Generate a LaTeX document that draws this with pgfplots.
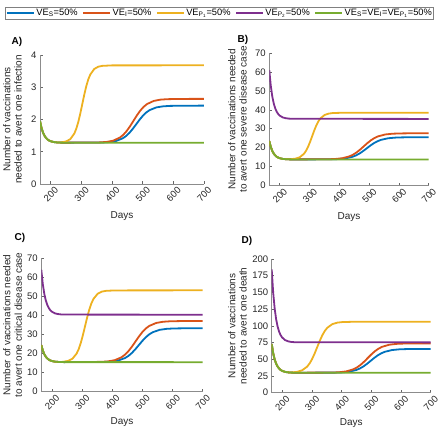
\documentclass[border=0pt]{standalone}
\usepackage{fontspec}
\setmainfont{Liberation Sans}
\usepackage{pgfplots}
\pgfplotsset{compat=1.18}
\definecolor{mblue}{rgb}{0,0.447,0.741}
\definecolor{mred}{rgb}{0.851,0.325,0.098}
\definecolor{myel}{rgb}{0.929,0.694,0.125}
\definecolor{mpur}{rgb}{0.494,0.184,0.556}
\definecolor{mgrn}{rgb}{0.466,0.674,0.188}
\pgfplotsset{
 panel/.style={
  scale only axis, axis lines*=left, xmin=165, xmax=700,
  xtick={200,300,400,500,600,700},
  tick align=inside, major tick length=2.5pt,
  axis line style={black!45, line width=0.7pt},
  tick style={black!60, line width=0.5pt},
  /pgf/number format/assume math mode=true,
  tick label style={font=\fontsize{9.5}{11}\selectfont, text=black!85},
  xticklabel style={rotate=45, anchor=north east, inner sep=1pt, xshift=2pt, yshift=-3pt},
  label style={font=\fontsize{10}{11.3}\selectfont, text=black!85},
  xlabel=Days,
  every axis plot/.append style={line width=1.8pt, line join=round},
  clip=true,
 },
}
\begin{document}
\begin{tikzpicture}[x=1pt,y=1pt]
\useasboundingbox (0,0) rectangle (440,429);
% ---------------- A
\begin{axis}[panel, at={(40pt,245pt)}, anchor=south west, width=164pt, height=129pt,
  ymin=0, ymax=4, ytick={0,1,2,3,4},
  ylabel={Number of vaccinations\\needed to avert one infection},
  ylabel style={at={(axis description cs:-0.168,0.5)}, anchor=center, align=center},
  xlabel style={at={(axis description cs:0.5,-0.25)}, anchor=center},
  legend columns=5,
  legend style={at={(axis description cs:1.0945,1.3256)}, anchor=center, draw=black!50,
    font=\fontsize{9.3}{10}\selectfont, inner sep=1pt,
    nodes={inner sep=0.8pt},
    /tikz/every odd column/.append style={column sep=1pt},
    /tikz/every even column/.append style={column sep=4pt}},
  legend image code/.code={\draw[#1,line width=1.3pt] (0pt,0pt) -- (27pt,0pt);},
]
\addlegendimage{mblue}
\addlegendentry{VE\textsubscript{S}=50\%}
\addlegendimage{mred}
\addlegendentry{VE\textsubscript{I}=50\%}
\addlegendimage{myel}
\addlegendentry{VE\textsubscript{P\textsubscript{1}}=50\%}
\addlegendimage{mpur}
\addlegendentry{VE\textsubscript{P\textsubscript{2}}=50\%}
\addlegendimage{mgrn}
\addlegendentry{VE\textsubscript{S}=VE\textsubscript{I}=VE\textsubscript{P\textsubscript{1}}=50\%}
\addplot[mblue, forget plot] coordinates {(165,1.95)(170,1.736)(175,1.590)(180,1.491)(185,1.424)(190,1.378)(195,1.346)(200,1.326)(210,1.301)(220,1.290)(230,1.284)(240,1.282)(369,1.288)(391,1.301)(413,1.334)(435,1.417)(446,1.489)(457,1.589)(468,1.715)(479,1.855)(490,1.995)(501,2.121)(512,2.221)(523,2.293)(545,2.376)(567,2.409)(589,2.422)(630,2.428)(700,2.43)};
\addplot[mred, forget plot] coordinates {(165,1.95)(170,1.736)(175,1.590)(180,1.491)(185,1.424)(190,1.378)(195,1.346)(200,1.326)(210,1.301)(220,1.290)(230,1.284)(240,1.282)(360,1.29)(382,1.304)(404,1.344)(426,1.442)(437,1.528)(448,1.646)(459,1.794)(470,1.96)(481,2.126)(492,2.274)(503,2.392)(514,2.478)(536,2.576)(558,2.616)(580,2.63)(620,2.638)(700,2.64)};
\addplot[myel, forget plot] coordinates {(165,1.95)(170,1.736)(175,1.590)(180,1.491)(185,1.424)(190,1.378)(195,1.346)(200,1.326)(210,1.301)(220,1.290)(230,1.284)(238,1.297)(251,1.323)(264,1.393)(277,1.566)(283.5,1.717)(290,1.926)(296.5,2.187)(303,2.48)(309.5,2.773)(316,3.034)(322.5,3.243)(329,3.394)(342,3.567)(355,3.637)(368,3.663)(400,3.678)(700,3.68)};
\addplot[mgrn, forget plot] coordinates {(165,1.95)(170,1.736)(175,1.590)(180,1.491)(185,1.424)(190,1.378)(195,1.346)(200,1.326)(210,1.301)(220,1.290)(230,1.284)(240,1.282)(700,1.28)};
\end{axis}
% ---------------- B
\begin{axis}[panel, at={(269.3pt,243.7pt)}, anchor=south west, width=159.4pt, height=132pt,
  ymin=0, ymax=70, ytick={0,10,20,30,40,50,60,70},
  ylabel={Number of vaccinations needed\\to avert one severe disease case},
  ylabel style={at={(axis description cs:-0.2,0.5)}, anchor=center, align=center},
  xlabel style={at={(axis description cs:0.5,-0.24)}, anchor=center},
]
\addplot[mblue] coordinates {(165,23.5)(170,20.37)(175,18.24)(180,16.79)(185,15.81)(190,15.13)(195,14.67)(200,14.37)(210,14.00)(220,13.85)(230,13.77)(240,13.73)(372,13.78)(396,13.91)(420,14.25)(444,15.10)(456,15.85)(468,16.87)(480,18.16)(492,19.6)(504,21.04)(516,22.33)(528,23.35)(540,24.10)(564,24.95)(588,25.29)(612,25.42)(650,25.48)(700,25.5)};
\addplot[mred] coordinates {(165,23.5)(170,20.37)(175,18.24)(180,16.79)(185,15.81)(190,15.13)(195,14.67)(200,14.37)(210,14.00)(220,13.85)(230,13.77)(240,13.73)(362,13.80)(386,13.95)(410,14.35)(434,15.35)(446,16.23)(458,17.44)(470,18.95)(482,20.65)(494,22.35)(506,23.86)(518,25.07)(530,25.95)(554,26.95)(578,27.35)(602,27.50)(640,27.58)(700,27.6)};
\addplot[myel] coordinates {(165,23.5)(170,20.37)(175,18.24)(180,16.79)(185,15.81)(190,15.13)(195,14.67)(200,14.37)(210,14.00)(220,13.85)(230,13.77)(239,13.87)(253,14.15)(267,14.87)(281,16.65)(288,18.21)(295,20.37)(302,23.07)(309,26.1)(316,29.13)(323,31.83)(330,33.99)(337,35.55)(351,37.33)(365,38.05)(379,38.33)(410,38.47)(700,38.5)};
\addplot[mpur] coordinates {(165,61)(170,52.77)(175,47.15)(180,43.33)(185,40.75)(190,38.97)(195,37.75)(200,36.95)(210,36.0)(220,35.59)(230,35.37)(240,35.28)(700,35.2)};
\addplot[mgrn] coordinates {(165,23.5)(170,20.37)(175,18.24)(180,16.79)(185,15.81)(190,15.13)(195,14.67)(200,14.37)(210,14.00)(220,13.85)(230,13.77)(240,13.73)(700,13.7)};
\end{axis}
% ---------------- C
\begin{axis}[panel, at={(41.3pt,37.3pt)}, anchor=south west, width=161.4pt, height=133.4pt,
  ymin=0, ymax=70, ytick={0,10,20,30,40,50,60,70},
  ylabel={Number of vaccinations needed\\to avert one critical disease case},
  ylabel style={at={(axis description cs:-0.178,0.5)}, anchor=center, align=center},
  xlabel style={at={(axis description cs:0.5,-0.225)}, anchor=center},
]
\addplot[mblue] coordinates {(165,24.5)(170,21.63)(175,19.67)(180,18.34)(185,17.44)(190,16.81)(195,16.39)(200,16.11)(210,15.78)(220,15.64)(230,15.56)(240,15.53)(373,15.62)(396,15.82)(419,16.34)(442,17.62)(453.5,18.74)(465,20.29)(476.5,22.23)(488,24.4)(499.5,26.57)(511,28.51)(522.5,30.06)(534,31.18)(557,32.46)(580,32.98)(603,33.18)(640,33.27)(700,33.3)};
\addplot[mred] coordinates {(165,24.5)(170,21.63)(175,19.67)(180,18.34)(185,17.44)(190,16.81)(195,16.39)(200,16.11)(210,15.78)(220,15.64)(230,15.56)(240,15.53)(362,15.65)(385,15.89)(408,16.52)(431,18.07)(442.5,19.43)(454,21.31)(465.5,23.66)(477,26.3)(488.5,28.94)(500,31.29)(511.5,33.17)(523,34.53)(546,36.08)(569,36.71)(592,36.95)(630,37.07)(700,37.1)};
\addplot[myel] coordinates {(165,24.5)(170,21.63)(175,19.67)(180,18.34)(185,17.44)(190,16.81)(195,16.39)(200,16.11)(210,15.78)(220,15.64)(230,15.56)(240,15.76)(254,16.18)(268,17.27)(282,19.99)(289,22.36)(296,25.64)(303,29.75)(310,34.35)(317,38.95)(324,43.06)(331,46.34)(338,48.71)(352,51.43)(366,52.52)(380,52.94)(410,53.15)(700,53.2)};
\addplot[mpur] coordinates {(165,64)(170,56.47)(175,51.33)(180,47.83)(185,45.47)(190,43.85)(195,42.74)(200,42.0)(210,41.13)(220,40.75)(230,40.56)(240,40.47)(700,40.4)};
\addplot[mgrn] coordinates {(165,24.5)(170,21.63)(175,19.67)(180,18.34)(185,17.44)(190,16.81)(195,16.39)(200,16.11)(210,15.78)(220,15.64)(230,15.56)(240,15.53)(700,15.5)};
\end{axis}
% ---------------- D
\begin{axis}[panel, at={(271.7pt,36.3pt)}, anchor=south west, width=159pt, height=133.7pt,
  ymin=0, ymax=200, ytick={0,25,50,75,100,125,150,175,200},
  ylabel={Number of vaccinations\\needed to avert one death},
  ylabel style={at={(axis description cs:-0.215,0.5)}, anchor=center, align=center},
  xlabel style={at={(axis description cs:0.5,-0.225)}, anchor=center},
]
\addplot[mblue] coordinates {(165,72.8)(170,59.08)(175,49.71)(180,43.35)(185,39.05)(190,36.08)(195,34.06)(200,32.72)(210,31.13)(220,30.45)(230,30.09)(240,29.93)(378,30.05)(402,30.44)(426,31.48)(450,34.05)(462,36.3)(474,39.4)(486,43.29)(498,47.65)(510,52.01)(522,55.9)(534,59.0)(546,61.25)(570,63.82)(594,64.86)(618,65.25)(660,65.45)(700,65.5)};
\addplot[mred] coordinates {(165,72.8)(170,59.08)(175,49.71)(180,43.35)(185,39.05)(190,36.08)(195,34.06)(200,32.72)(210,31.13)(220,30.45)(230,30.09)(240,29.93)(368,30.11)(392,30.59)(416,31.87)(440,35.04)(452,37.81)(464,41.64)(476,46.43)(488,51.8)(500,57.17)(512,61.96)(524,65.79)(536,68.56)(560,71.73)(584,73.01)(608,73.49)(650,73.75)(700,73.8)};
\addplot[myel] coordinates {(165,72.8)(170,59.08)(175,49.71)(180,43.35)(185,39.05)(190,36.08)(195,34.06)(200,32.72)(210,31.13)(220,30.45)(230,30.09)(233,30.33)(250,31.18)(267,33.39)(284,38.89)(292.5,43.7)(301,50.35)(309.5,58.68)(318,68.0)(326.5,77.32)(335,85.65)(343.5,92.3)(352,97.11)(369,102.61)(386,104.82)(403,105.67)(440,106.1)(700,106.2)};
\addplot[mpur] coordinates {(165,184.5)(170,149.7)(175,125.9)(180,109.7)(185,98.8)(190,91.2)(195,86.1)(200,82.7)(210,78.7)(220,76.9)(230,76.0)(240,75.6)(700,75.3)};
\addplot[mgrn] coordinates {(165,72.8)(170,59.08)(175,49.71)(180,43.35)(185,39.05)(190,36.08)(195,34.06)(200,32.72)(210,31.13)(220,30.45)(230,30.09)(240,29.93)(700,29.8)};
\end{axis}
% panel letters
\node[font=\bfseries\fontsize{10}{11}\selectfont] at (17,387) {A)};
\node[font=\bfseries\fontsize{10}{11}\selectfont] at (243,389) {B)};
\node[font=\bfseries\fontsize{10}{11}\selectfont] at (20,191) {C)};
\node[font=\bfseries\fontsize{10}{11}\selectfont] at (247,188) {D)};
\end{tikzpicture}
\end{document}
